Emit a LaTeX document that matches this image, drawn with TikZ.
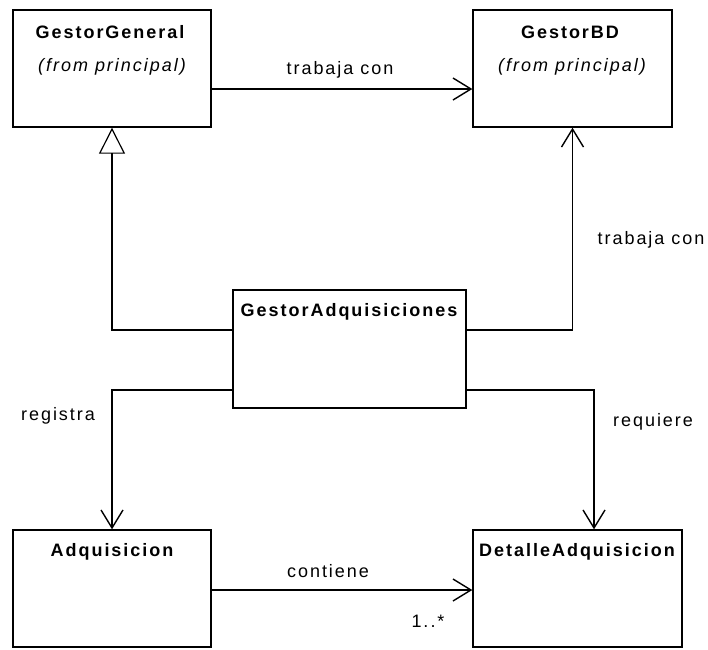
\documentclass[tikz,border=0pt]{standalone}
\usepackage{fontspec}
\setmainfont{Liberation Sans}[LetterSpace=11]
\usetikzlibrary{arrows.meta}
\tikzset{
  clase/.style={draw,line width=1.4pt,minimum width=#1,minimum height=117pt,inner sep=0pt},
  titulo/.style={font=\fontsize{18}{21}\selectfont\bfseries,inner sep=0pt},
  paquete/.style={font=\fontsize{18}{21}\selectfont\itshape,inner sep=0pt},
  etiqueta/.style={font=\fontsize{18}{21}\selectfont,inner sep=0pt},
  asoc/.style={line width=1.2pt,-{Straight Barb[length=18pt,width=22pt,line width=1.4pt]}},
  gen/.style={line width=1.2pt,-{Triangle[open,length=26pt,width=26pt,line width=1.2pt]}}
}
\begin{document}
\begin{tikzpicture}[x=1pt,y=-1pt]
  \useasboundingbox (0,0) rectangle (708,649);
  % clases
  \node[clase=198pt] (gg) at (112,68.5) {};
  \node[clase=199pt] (gbd) at (572.5,68.5) {};
  \node[clase=233pt,minimum height=118pt] (gadq) at (349.5,349) {};
  \node[clase=198pt] (adq) at (112,588.5) {};
  \node[clase=209pt] (det) at (577.5,588.5) {};
  \node[titulo] (gg-t) at (110,32) {GestorGeneral};
  \node[paquete] (gg-p) at (112,67) {(from principal)};
  \node[titulo] (gbd-t) at (570,32) {GestorBD};
  \node[paquete] (gbd-p) at (572,67) {(from principal)};
  \node[titulo] (gadq-t) at (349,312) {GestorAdquisiciones};
  \node[titulo] (adq-t) at (112,552) {Adquisicion};
  \node[titulo] (det-t) at (577,552) {DetalleAdquisicion};
  % relaciones
  \draw[asoc] ([yshift=-20.5pt]gg.east) -- ([yshift=-20.5pt]gbd.west);
  \draw[gen] ([yshift=19pt]gadq.west) -| (gg.south);
  \draw[asoc] ([yshift=19pt]gadq.east) -| (gbd.south);
  \draw[asoc] ([yshift=-41pt]gadq.west) -| (adq.north);
  \draw[asoc] ([yshift=-41pt]gadq.east) -| ([xshift=16.5pt]det.north);
  \draw[asoc] ([yshift=-1.5pt]adq.east) -- ([yshift=-1.5pt]det.west);
  \node[etiqueta] (l-trab1) at (340,70) {trabaja con};
  \node[etiqueta] (l-trab2) at (651,240) {trabaja con};
  \node[etiqueta] (l-reg) at (58,416) {registra};
  \node[etiqueta] (l-req) at (653,422) {requiere};
  \node[etiqueta] (l-cont) at (328,571) {contiene};
  \node[etiqueta] (l-mult) at (428,621) {1..*};
\end{tikzpicture}
\end{document}
